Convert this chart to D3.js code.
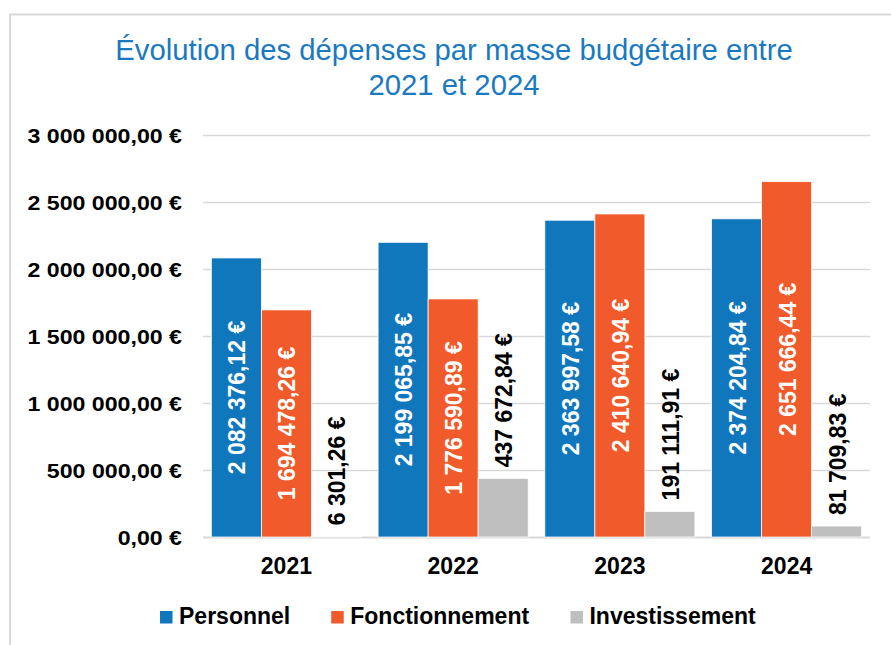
<!DOCTYPE html>
<html>
<head>
<meta charset="utf-8">
<script src="https://cdn.jsdelivr.net/npm/d3@7"></script>
<style>
  html, body { margin: 0; padding: 0; background: #fff; }
  svg { display: block; font-family: "Liberation Sans", Arial, sans-serif; }
</style>
</head>
<body>
<svg id="chart" width="891" height="645"></svg>
<script>
// Budget spending by category, 2021-2024
const years = ["2021", "2022", "2023", "2024"];
const seriesNames = ["Personnel", "Fonctionnement", "Investissement"];
const personnel = [2082376.12, 2199065.85, 2363997.58, 2374204.84];
const fonctionnement = [1694478.26, 1776590.89, 2410640.94, 2651666.44];
const investissement = [6301.26, 437672.84, 191111.91, 81709.83];
const yTicks = [0, 500000, 1000000, 1500000, 2000000, 2500000, 3000000];
const titleLines = ["Évolution des dépenses par masse budgétaire entre", "2021 et 2024"];

const colors = ["#1177bd", "#f15a2a", "#bfbfbf"];
const seriesValues = [personnel, fonctionnement, investissement];

const fr = d3.formatLocale({ decimal: ",", thousands: " ", grouping: [3], currency: ["", " €"] });
const fmt = v => fr.format(",.2f")(v) + " €";

const svg = d3.select("#chart");

// outer frame
svg.append("rect")
  .attr("x", 10).attr("y", 14.5).attr("width", 900).attr("height", 700)
  .attr("fill", "none").attr("stroke", "#d9d9d9").attr("stroke-width", 2);

// title
svg.append("g").selectAll("text").data(titleLines).join("text")
  .attr("x", 454).attr("y", (d, i) => 60 + i * 35)
  .attr("text-anchor", "middle")
  .attr("font-size", 29.3).attr("fill", "#1b79c0")
  .text(d => d);

const y = d3.scaleLinear().domain([0, 3000000]).range([537, 135]);
const x = d3.scaleBand().domain(years).range([203, 870]).paddingInner(0.1).paddingOuter(0.05);
const xs = d3.scaleBand().domain(seriesNames).range([0, x.bandwidth()]);

// gridlines
svg.append("g").selectAll("line").data(yTicks).join("line")
  .attr("x1", 203).attr("x2", 870)
  .attr("y1", d => Math.round(y(d)) + 0.5).attr("y2", d => Math.round(y(d)) + 0.5)
  .attr("stroke", "#d9d9d9").attr("stroke-width", d => d === 0 ? 2 : 1.5);

// y axis labels (slightly widened glyphs)
const yAxis = d3.axisLeft(y).tickValues(yTicks).tickSize(0).tickFormat(fmt);
const gy = svg.append("g").attr("transform", "translate(182,0)").call(yAxis);
gy.select(".domain").remove();
gy.selectAll("text")
  .attr("x", 0).attr("dy", "0.36em")
  .attr("transform", "scale(1.13,1)")
  .attr("font-family", "Liberation Sans, Arial, sans-serif")
  .attr("font-size", 20.5).attr("font-weight", "bold").attr("fill", "#000");

// x axis labels
const xAxis = d3.axisBottom(x).tickSize(0);
const gx = svg.append("g").attr("transform", "translate(0,537)").call(xAxis);
gx.select(".domain").remove();
gx.selectAll("text")
  .attr("y", 0).attr("dy", 37)
  .attr("font-family", "Liberation Sans, Arial, sans-serif")
  .attr("font-size", 23).attr("font-weight", "bold").attr("fill", "#000");

// bars
const rows = [];
years.forEach((yr, i) => {
  seriesNames.forEach((s, j) => rows.push({ year: yr, series: s, j, value: seriesValues[j][i] }));
});

const bars = svg.append("g");
bars.selectAll("rect").data(rows).join("rect")
  .attr("x", d => x(d.year) + xs(d.series))
  .attr("width", xs.bandwidth())
  .attr("y", d => y(d.value))
  .attr("height", d => y(0) - y(d.value))
  .attr("fill", d => colors[d.j])
  .attr("stroke", "#fff").attr("stroke-width", 0.75);

// value labels, rotated
bars.selectAll("text").data(rows).join("text")
  .attr("transform", d => {
    const cx = x(d.year) + xs(d.series) + xs.bandwidth() / 2;
    const cy = d.j < 2 ? (y(d.value) + y(0)) / 2 : y(d.value) - 11;
    return `translate(${cx},${cy}) rotate(-90) scale(1,1.08)`;
  })
  .attr("text-anchor", d => d.j < 2 ? "middle" : "start")
  .attr("dy", "0.36em")
  .attr("font-size", 23).attr("font-weight", "bold")
  .attr("fill", d => d.j < 2 ? "#fff" : "#000")
  .text(d => fmt(d.value));

// legend
const legend = svg.append("g");
const items = legend.selectAll("g").data(seriesNames).join("g");
items.append("rect").attr("width", 12.5).attr("height", 12.5).attr("y", -12.5)
  .attr("fill", (d, i) => colors[i]);
items.append("text").attr("x", 19).attr("y", 0)
  .attr("font-size", 23).attr("font-weight", "bold").attr("fill", "#000")
  .text(d => d);
let lx = 0;
const widths = [];
items.each(function () { widths.push(this.getBBox().width); });
const gap = 41;
const total = d3.sum(widths) + gap * (widths.length - 1);
lx = 458 - total / 2;
items.attr("transform", (d, i) => {
  const t = `translate(${lx},623.5)`;
  lx += widths[i] + gap;
  return t;
});
</script>
</body>
</html>
